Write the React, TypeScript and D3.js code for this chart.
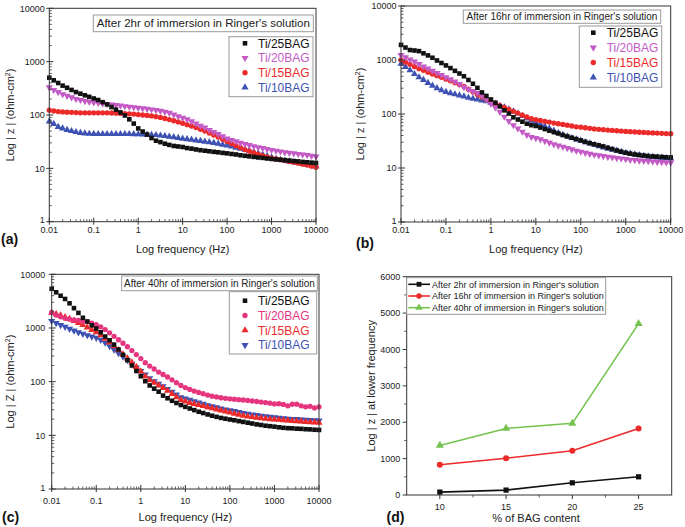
import React from "react";
import * as d3 from "d3";

// ---------- data ----------
// frequency grid (Hz): 10 points per decade from 0.01 to 10000
const FREQ: number[] = d3.range(61).map((i) => Math.pow(10, -2 + i / 10));

// (a) After 2hr
const A25 = [501,447,398,355,324,295,269,251,234,219,
  204,191,174,158,141,126,112,98,83,69,
  56,49,43,37,33,31,29,27.5,26.3,25.7,
  25.1,24,23.4,22.6,21.9,21.4,20.9,20.4,20,19.5,
  19.1,18.6,18.2,17.6,17.2,16.8,16.4,16,15.7,15.3,
  15,14.7,14.5,14.2,14,13.7,13.5,13.2,13,12.8,
  12.6];
const A20 = [331,295,269,245,229,214,200,191,182,176,
  172,168,164,160,157,153,150,146,143,140,
  136,133,130,127,124,120,115,110,102,95,
  89,83,76,69,63,58,52,48,44,40,
  36,34,32,30,28.5,27.2,26,24.8,23.9,23,
  22.1,21.4,20.7,20,19.5,19.1,18.6,18.2,17.8,17.2,
  16.6];
const A15 = [123,119,116,114,113,112,111,110,110,110,
  110,110,110,110,109,108,107,106,105,104,
  102,100,98,96,93,90,86,82,78,74,
  70,66,62,58,54,50,46,42,38.5,35,
  32,29,26.5,24.5,22.5,21,19.6,18.4,17.3,16.4,
  15.6,15,14.5,14,13.5,13,12.5,12,11.5,11,
  10.5];
const A10 = [76,68,60,56,52.5,50,48,46.2,45.2,44.5,
  44.2,44,44,44,44,44,44,44,44,43.7,
  43.5,43.2,42.9,42.5,42.1,41.2,40.3,39.4,38.3,37.2,
  36.1,35.2,34.4,33.5,32.6,31.6,30.9,30.1,29,27.9,
  26.8,25.7,24.5,23.4,22.4,21.4,20.2,19.1,18,17,
  16,15.1,14.5,14,13.5,13,12.6,12.2,11.7,11.4,
  11];

// (b) After 16hr
const B25 = [1905,1700,1530,1500,1460,1330,1215,1100,980,880,
  794,708,630,562,500,427,363,305,251,216,
  186,162,138,117,102,87,79,72,66,62,
  60,56,52.5,49,46,43.6,40.7,38.5,36.3,34.3,
  32.4,30.5,28.8,27.5,26.3,25.1,23.7,22.4,21.1,20,
  19.1,18.4,17.8,17.4,17,16.6,16.4,16.2,16,15.8,
  15.7];
const B20 = [1230,1120,1020,933,841,759,692,631,575,525,
  479,437,398,359,316,288,263,245,219,186,
  155,132,110,89,74,62,54,47,41,37.6,
  35.9,33.9,31.6,29.5,27.5,26,24.8,23.4,22.1,20.9,
  20,19.1,18.3,17.6,17.1,16.6,16.1,15.7,15.3,15,
  14.6,14.2,14,13.7,13.6,13.4,13.2,13,12.9,12.7,
  12.6];
const B15 = [1000,912,832,752,692,646,596,550,513,479,
  442,412,380,351,324,288,257,229,207,186,
  170,155,143,132,122,112,104,95,88,82,
  78.5,76,73,71,68,66,64,62,60,58,
  57,55.6,54.3,53,52,51.3,50.5,49.7,49,48.3,
  47.6,47,46.5,45.9,45.5,45.1,44.7,44.3,43.9,43.5,
  43.2];
const B10 = [851,741,646,550,479,427,376,335,302,275,
  257,243,232,221,211,200,193,186,178,172,
  162,153,143,132,122,112,102,92,83,75,
  69,64.6,59,54,49,44.7,41.2,38.5,35.9,33.9,
  32,30.2,28.5,26.9,25.4,24,22.9,21.9,20.9,20,
  19.1,18.4,17.8,17.3,16.8,16.4,16,15.7,15.5,15.2,
  15];

// (c) After 40hr
const C25 = [5370,4620,3980,3470,2880,2340,1910,1550,1320,1120,
  977,832,692,589,490,398,316,251,200,158,
  126,102,85,74,65,55,49,44,40,36.7,
  33.9,31.6,29.5,27.5,26,24.5,23.2,22.1,21.1,20.4,
  19.7,19.1,18.4,17.8,17.2,16.6,16,15.6,15.1,14.8,
  14.5,14.1,13.8,13.6,13.5,13.3,13.2,13,12.9,12.7,
  12.6];
const C20 = [1950,1740,1620,1510,1460,1410,1380,1350,1300,1230,
  1150,1050,933,813,700,603,519,447,380,320,
  269,226,195,172,151,136,122,108,95.5,85,
  77.6,71.6,66.8,63,59.6,56.2,53.7,51.9,50.1,49,
  47.9,47,46.2,45.5,44.7,43.6,42.7,41.7,40.7,39.8,
  38.5,38.9,37.6,35.5,38,38,35.5,33.9,34.7,32.4,
  33.9];
const C15 = [1905,1820,1720,1600,1480,1350,1245,1135,1023,923,
  832,733,631,537,457,385,324,272,229,188,
  155,126,107,95.5,85,76.7,67.6,58.9,51.3,45.7,
  42.7,40.3,38.5,36.7,35.1,33.5,32,30.5,29.2,27.9,
  26.6,25.4,24.3,23.2,22.4,21.9,21.4,20.9,20.4,20,
  19.7,19.5,19.2,18.9,18.6,18.4,18.2,17.8,17.6,17.4,
  17.2];
const C10 = [1350,1230,1135,1047,966,891,832,776,733,692,
  653,603,531,457,394,339,292,251,216,184,
  157,135,116,102,91,82,73,65,57.5,51.3,
  48.4,45.7,43.2,40.7,38.5,36.3,34.7,33.1,31.6,30.2,
  29.2,28.2,27,26,25.1,24.5,23.9,23.2,22.6,22.1,
  21.6,21.1,20.7,20.4,20.2,20,19.7,19.5,19.3,19.1,
  18.8];

// (d) |Z| at lower frequency vs BAG content
const BAG = [10, 15, 20, 25];
const D2HR = [80, 135, 335, 500];
const D16HR = [830, 1010, 1215, 1830];
const D40HR = [1360, 1830, 1970, 4710];

const X_TICKS = [0.01, 0.1, 1, 10, 100, 1000, 10000];
const Y_TICKS = [1, 10, 100, 1000, 10000];
const D_X_TICKS = [10, 15, 20, 25];
const D_Y_TICKS = [0, 1000, 2000, 3000, 4000, 5000, 6000];

// ---------- styles ----------
const FONT = "'Liberation Sans', Arial, Helvetica, sans-serif";
const C_BLACK = "#111111";
const C_MAG = "#c45ac6";
const C_RED = "#ec2a2a";
const C_BLUE = "#3e52b4";
const C_PINK = "#e6347f";
const C_GREEN = "#74c24f";
const AXIS = "#333333";

type Shape = "square" | "circle" | "up" | "down";
type Series = { name: string; values: number[]; color: string; shape: Shape };

const symbolPath = (shape: Shape, size: number) => {
  const t = shape === "square" ? d3.symbolSquare : shape === "circle" ? d3.symbolCircle : d3.symbolTriangle;
  return d3.symbol().type(t).size(size)() as string;
};
const SYM_SIZE: Record<Shape, number> = { square: 21, circle: 22, up: 22, down: 22 };

function Marker({ x, y, shape, color, scale = 1 }: { x: number; y: number; shape: Shape; color: string; scale?: number }) {
  const rot = shape === "down" ? " rotate(180)" : "";
  return <path d={symbolPath(shape, SYM_SIZE[shape] * scale)} transform={`translate(${x},${y})${rot}`} fill={color} />;
}

type PanelCfg = {
  x0: number; x1: number; y0: number; y1: number;
  yLabGap: number; xTickY: number; xTitleY: number; yTitleX: number; zChar: string;
  letter: string; letterX: number; letterY: number;
  title: string; tb: [number, number, number, number]; titleSize: number;
  lg: { x: number; y: number; w: number; h: number; row0: number; step: number; markX: number; textX: number };
  series: Series[];
};

function LogPanel({ cfg }: { cfg: PanelCfg }) {
  const x = d3.scaleLog().domain([0.01, 10000]).range([cfg.x0, cfg.x1]);
  const y = d3.scaleLog().domain([1, 10000]).range([cfg.y1, cfg.y0]);
  const minX: number[] = [];
  for (let e = -2; e < 4; e++) for (let m = 2; m <= 9; m++) minX.push(m * Math.pow(10, e));
  const minY: number[] = [];
  for (let e = 0; e < 4; e++) for (let m = 2; m <= 9; m++) minY.push(m * Math.pow(10, e));
  const cx = (cfg.x0 + cfg.x1) / 2;
  const cy = (cfg.y0 + cfg.y1) / 2;
  const drawOrder = [...cfg.series].reverse();
  return (
    <g fontFamily={FONT}>
      {drawOrder.map((s) => (
        <g key={s.name}>
          {s.values.map((v, i) => (
            <Marker key={i} x={x(FREQ[i])} y={y(v)} shape={s.shape} color={s.color} />
          ))}
        </g>
      ))}
      <rect x={cfg.x0} y={cfg.y0} width={cfg.x1 - cfg.x0} height={cfg.y1 - cfg.y0} fill="none" stroke={AXIS} strokeWidth={1} />
      {X_TICKS.map((t) => (
        <g key={"xt" + t}>
          <line x1={x(t)} x2={x(t)} y1={cfg.y1 + 3} y2={cfg.y1 - 4} stroke={AXIS} />
          <text x={x(t)} y={cfg.xTickY} fontSize={9} textAnchor="middle" fill="#222">{String(t)}</text>
        </g>
      ))}
      {minX.map((t) => (
        <line key={"xm" + t} x1={x(t)} x2={x(t)} y1={cfg.y1} y2={cfg.y1 - 2.5} stroke={AXIS} strokeWidth={0.8} />
      ))}
      {Y_TICKS.map((t) => (
        <g key={"yt" + t}>
          <line x1={cfg.x0 - 3} x2={cfg.x0 + 4} y1={y(t)} y2={y(t)} stroke={AXIS} />
          <text x={cfg.x0 - cfg.yLabGap} y={y(t) + (t === 1 ? 1.6 : 3.2)} fontSize={9} textAnchor="end" fill="#222">{String(t)}</text>
        </g>
      ))}
      {minY.map((t) => (
        <line key={"ym" + t} x1={cfg.x0} x2={cfg.x0 + 2.5} y1={y(t)} y2={y(t)} stroke={AXIS} strokeWidth={0.8} />
      ))}
      <text x={cx} y={cfg.xTitleY} fontSize={11} textAnchor="middle" fill="#222">Log frequency (Hz)</text>
      <text transform={`translate(${cfg.yTitleX},${cy}) rotate(-90)`} fontSize={11} textAnchor="middle" fill="#222">
        {`Log | ${cfg.zChar} | (ohm-cm`}
        <tspan fontSize={7} dy={-4}>2</tspan>
        <tspan dy={4}>)</tspan>
      </text>
      <text x={cfg.letterX} y={cfg.letterY} fontSize={14} fontWeight="bold" fill="#111">{cfg.letter}</text>
      <rect x={cfg.tb[0]} y={cfg.tb[1]} width={cfg.tb[2]} height={cfg.tb[3]} fill="white" stroke="#9a9a9a" strokeWidth={1} />
      <text x={cfg.tb[0] + cfg.tb[2] / 2} y={cfg.tb[1] + cfg.tb[3] / 2 + cfg.titleSize * 0.35} fontSize={cfg.titleSize} textAnchor="middle" fill="#222">{cfg.title}</text>
      <rect x={cfg.lg.x} y={cfg.lg.y} width={cfg.lg.w} height={cfg.lg.h} fill="white" stroke="#9a9a9a" strokeWidth={1} />
      {cfg.series.map((s, i) => {
        const ry = cfg.lg.row0 + i * cfg.lg.step;
        return (
          <g key={"lg" + s.name}>
            <Marker x={cfg.lg.markX} y={ry} shape={s.shape} color={s.color} />
            <text x={cfg.lg.textX} y={ry + 4.3} fontSize={12} fill={s.color}>{s.name}</text>
          </g>
        );
      })}
    </g>
  );
}

const PANEL_A: PanelCfg = {
  x0: 49.3, x1: 316, y0: 8.3, y1: 221.7, yLabGap: 4.5, xTickY: 232.8, xTitleY: 253, yTitleX: 13.5, zChar: "z",
  letter: "(a)", letterX: 1, letterY: 244,
  title: "After 2hr of immersion in Ringer's solution", tb: [93.3, 15, 220, 16.7], titleSize: 11.5,
  lg: { x: 229, y: 36.7, w: 84, h: 60, row0: 43.3, step: 14.7, markX: 245, textX: 258 },
  series: [
    { name: "Ti/25BAG", values: A25, color: C_BLACK, shape: "square" },
    { name: "Ti/20BAG", values: A20, color: C_MAG, shape: "down" },
    { name: "Ti/15BAG", values: A15, color: C_RED, shape: "circle" },
    { name: "Ti/10BAG", values: A10, color: C_BLUE, shape: "up" },
  ],
};
const PANEL_B: PanelCfg = {
  x0: 401, x1: 670.7, y0: 6, y1: 222, yLabGap: 4.5, xTickY: 233, xTitleY: 253, yTitleX: 363.5, zChar: "z",
  letter: "(b)", letterX: 356, letterY: 248,
  title: "After 16hr of immersion in Ringer's solution", tb: [463.3, 10, 197.4, 13.3], titleSize: 10,
  lg: { x: 579.3, y: 26, w: 82.4, h: 61.3, row0: 32.7, step: 14.9, markX: 593.3, textX: 606.7 },
  series: [
    { name: "Ti/25BAG", values: B25, color: C_BLACK, shape: "square" },
    { name: "Ti/20BAG", values: B20, color: C_MAG, shape: "down" },
    { name: "Ti/15BAG", values: B15, color: C_RED, shape: "circle" },
    { name: "Ti/10BAG", values: B10, color: C_BLUE, shape: "up" },
  ],
};
const PANEL_C: PanelCfg = {
  x0: 51.7, x1: 319, y0: 274.3, y1: 489, yLabGap: 6.5, xTickY: 504, xTitleY: 521, yTitleX: 13.5, zChar: "Z",
  letter: "(c)", letterX: 2, letterY: 521.5,
  title: "After 40hr of immersion in Ringer's solution", tb: [121.7, 276, 195.6, 14.7], titleSize: 10,
  lg: { x: 229.3, y: 291.7, w: 87.4, h: 62.3, row0: 300.7, step: 14.8, markX: 245, textX: 258 },
  series: [
    { name: "Ti/25BAG", values: C25, color: C_BLACK, shape: "square" },
    { name: "Ti/20BAG", values: C20, color: C_PINK, shape: "circle" },
    { name: "Ti/15BAG", values: C15, color: C_RED, shape: "up" },
    { name: "Ti/10BAG", values: C10, color: C_BLUE, shape: "down" },
  ],
};

function PanelD() {
  const x0 = 406.7, x1 = 671.7, y0 = 276.7, y1 = 495;
  const x = d3.scaleLinear().domain([7.5, 27.5]).range([x0, x1]);
  const y = d3.scaleLinear().domain([0, 6000]).range([y1, y0]);
  const series: Series[] = [
    { name: "After 2hr of immersion in Ringer's solution", values: D2HR, color: C_BLACK, shape: "square" },
    { name: "After 16hr of immersion in Ringer's solution", values: D16HR, color: C_RED, shape: "circle" },
    { name: "After 40hr of immersion in Ringer's solution", values: D40HR, color: C_GREEN, shape: "up" },
  ];
  const line = d3.line<number>().x((_, i) => x(BAG[i])).y((v) => y(v));
  const minY = d3.range(500, 6000, 1000);
  const minX = [12.5, 17.5, 22.5];
  return (
    <g fontFamily={FONT}>
      {series.map((s) => (
        <g key={s.name}>
          <path d={line(s.values) as string} fill="none" stroke={s.color} strokeWidth={1.6} />
          {s.values.map((v, i) => (
            <Marker key={i} x={x(BAG[i])} y={y(v)} shape={s.shape} color={s.color} scale={1.3} />
          ))}
        </g>
      ))}
      <rect x={x0} y={y0} width={x1 - x0} height={y1 - y0} fill="none" stroke={AXIS} strokeWidth={1} />
      {D_Y_TICKS.map((t) => (
        <g key={"dy" + t}>
          <line x1={x0 - 4} x2={x0} y1={y(t)} y2={y(t)} stroke={AXIS} />
          <text x={x0 - 6.5} y={y(t) + 3.2} fontSize={9} textAnchor="end" fill="#222">{String(t)}</text>
        </g>
      ))}
      {minY.map((t) => (
        <line key={"dym" + t} x1={x0 - 2.5} x2={x0} y1={y(t)} y2={y(t)} stroke={AXIS} strokeWidth={0.8} />
      ))}
      {D_X_TICKS.map((t) => (
        <g key={"dx" + t}>
          <line x1={x(t)} x2={x(t)} y1={y1} y2={y1 + 4} stroke={AXIS} />
          <text x={x(t)} y={510} fontSize={9} textAnchor="middle" fill="#222">{String(t)}</text>
        </g>
      ))}
      {minX.map((t) => (
        <line key={"dxm" + t} x1={x(t)} x2={x(t)} y1={y1} y2={y1 + 2.5} stroke={AXIS} strokeWidth={0.8} />
      ))}
      <text x={536} y={522} fontSize={11} textAnchor="middle" fill="#222">% of BAG content</text>
      <text transform={`translate(375,${(y0 + y1) / 2}) rotate(-90)`} fontSize={11} textAnchor="middle" fill="#222">Log | z | at lower frequency</text>
      <text x={386.5} y={521.5} fontSize={14} fontWeight="bold" fill="#111">(d)</text>
      <rect x={x0} y={277.7} width={199} height={36.6} fill="white" stroke="#9a9a9a" strokeWidth={1} />
      {series.map((s, i) => {
        const ry = 284.3 + i * 11.7;
        return (
          <g key={"dl" + i}>
            <line x1={408.3} x2={430} y1={ry} y2={ry} stroke={s.color} strokeWidth={1.6} />
            <Marker x={419} y={ry} shape={s.shape} color={s.color} scale={1.1} />
            <text x={432} y={ry + 3.2} fontSize={9} fill="#222">{s.name}</text>
          </g>
        );
      })}
    </g>
  );
}

export default function App() {
  return (
    <svg width={685} height={527} viewBox="0 0 685 527"
      style={{ position: "absolute", left: 0, top: 0, background: "white" }}>
      <rect x={0} y={0} width={685} height={527} fill="white" />
      <LogPanel cfg={PANEL_A} />
      <LogPanel cfg={PANEL_B} />
      <LogPanel cfg={PANEL_C} />
      <PanelD />
    </svg>
  );
}
